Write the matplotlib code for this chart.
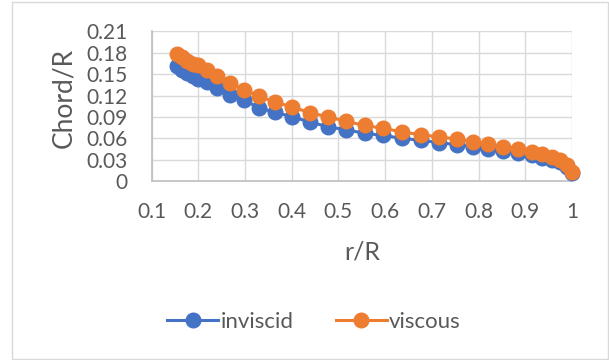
import numpy as np
import matplotlib.pyplot as plt
from matplotlib.patches import Rectangle

# r/R stations
r_R = [0.155, 0.166, 0.177, 0.189, 0.200, 0.218, 0.241, 0.268, 0.298, 0.331,
       0.364, 0.401, 0.439, 0.478, 0.516, 0.556, 0.596, 0.636, 0.676, 0.715,
       0.753, 0.789, 0.821, 0.853, 0.885, 0.914, 0.935, 0.957, 0.974, 0.989, 0.999]

inviscid = [0.161, 0.156, 0.152, 0.147, 0.143, 0.139, 0.130, 0.121, 0.114, 0.102,
            0.097, 0.090, 0.083, 0.076, 0.072, 0.067, 0.064, 0.060, 0.057, 0.054,
            0.051, 0.048, 0.045, 0.042, 0.039, 0.036, 0.033, 0.030, 0.026, 0.0195, 0.011]

viscous = [0.179, 0.174, 0.169, 0.165, 0.163, 0.156, 0.147, 0.137, 0.128, 0.119,
           0.111, 0.104, 0.096, 0.090, 0.084, 0.078, 0.074, 0.069, 0.065, 0.062,
           0.059, 0.055, 0.052, 0.048, 0.045, 0.041, 0.038, 0.034, 0.030, 0.0225, 0.013]

xticks = [0.1, 0.2, 0.3, 0.4, 0.5, 0.6, 0.7, 0.8, 0.9, 1.0]
xtick_labels = ['0.1', '0.2', '0.3', '0.4', '0.5', '0.6', '0.7', '0.8', '0.9', '1']
yticks = [0, 0.03, 0.06, 0.09, 0.12, 0.15, 0.18, 0.21]
ytick_labels = ['0', '0.03', '0.06', '0.09', '0.12', '0.15', '0.18', '0.21']

plt.rcParams['font.family'] = ['Lato', 'DejaVu Sans']
txt = '#595959'
grid = '#D9D9D9'

fig = plt.figure(figsize=(6.09, 3.6), dpi=100)
ax = fig.add_axes([151.5/609, 179/360, 420.5/609, 149.5/360])

ax.plot(r_R, inviscid, color='#4472C4', lw=2.2, marker='o', ms=10.5,
        mec='#4472C4', label='inviscid', clip_on=False, zorder=3)
ax.plot(r_R, viscous, color='#ED7D31', lw=2.2, marker='o', ms=10.5,
        mec='#ED7D31', label='viscous', clip_on=False, zorder=4)

ax.set_xlim(0.1, 1.0)
ax.set_ylim(0, 0.21)
ax.set_xticks(xticks)
ax.set_xticklabels(xtick_labels)
ax.set_yticks(yticks)
ax.set_yticklabels(ytick_labels)
ax.tick_params(length=0, labelsize=15, labelcolor=txt)
ax.tick_params(axis='y', pad=17)
ax.tick_params(axis='x', pad=15)
ax.grid(True, color=grid, lw=1)
ax.set_axisbelow(True)
for s in ['top', 'right']:
    ax.spines[s].set_visible(False)
for s in ['left', 'bottom']:
    ax.spines[s].set_color('#BFBFBF')
    ax.spines[s].set_linewidth(1.2)

ax.set_xlabel('r/R', fontsize=18, color=txt, va='center')
ax.xaxis.set_label_coords(0.5, -0.475)
ax.set_ylabel('Chord/R', fontsize=19, color=txt, va='center')
ax.yaxis.set_label_coords(-0.208, 0.555)

fig.legend(loc='center', bbox_to_anchor=(314/609, 1 - 322/360), ncol=2,
           frameon=False, fontsize=16, labelcolor=txt, handlelength=2.3,
           handletextpad=0.1, columnspacing=1.9)

fig.patches.append(Rectangle((12/609, 1/360), 596/609, 357/360, transform=fig.transFigure,
                             fill=False, edgecolor=grid, lw=1))

fig.savefig('out.png', dpi=100)
